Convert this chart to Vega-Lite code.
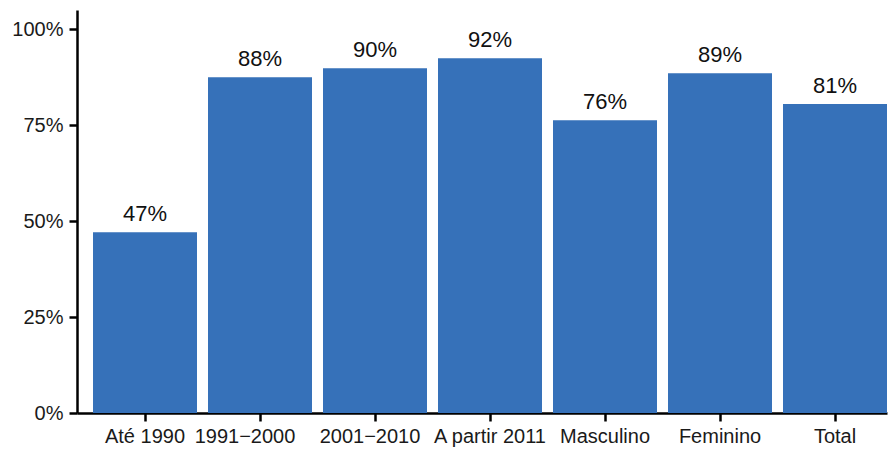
{
  "$schema": "https://vega.github.io/schema/vega-lite/v6.json",
  "width": 810,
  "height": 403,
  "autosize": {"type": "none"},
  "padding": {"left": 77, "top": 10, "right": 6, "bottom": 37},
  "background": "white",
  "config": {
    "view": {"stroke": null},
    "font": "Liberation Sans"
  },
  "data": {
    "values": [
      {"grupo": "Até 1990", "valor": 0.471, "rotulo": "47%"},
      {"grupo": "1991−2000", "valor": 0.875, "rotulo": "88%"},
      {"grupo": "2001−2010", "valor": 0.898, "rotulo": "90%"},
      {"grupo": "A partir 2011", "valor": 0.924, "rotulo": "92%"},
      {"grupo": "Masculino", "valor": 0.763, "rotulo": "76%"},
      {"grupo": "Feminino", "valor": 0.885, "rotulo": "89%"},
      {"grupo": "Total", "valor": 0.805, "rotulo": "81%"}
    ]
  },
  "encoding": {
    "x": {
      "field": "grupo",
      "type": "nominal",
      "sort": null,
      "scale": {"paddingInner": 0.0957, "paddingOuter": 0.0696, "align": 1},
      "axis": {
        "title": null,
        "labelAngle": 0,
        "labelFontSize": 20,
        "labelColor": "#1a1a1a",
        "labelPadding": 5,
        "labelOverlap": false,
        "labelOffset": {"condition": [{"test": "datum.value === '1991−2000'", "value": -15}, {"test": "datum.value === '2001−2010'", "value": -5}], "value": 0},
        "tickSize": 8,
        "tickWidth": 2.5,
        "tickColor": "#000000",
        "domainWidth": 2.5,
        "domainColor": "#000000",
        "grid": false
      }
    },
    "y": {
      "field": "valor",
      "type": "quantitative",
      "scale": {"domain": [0, 1.05], "nice": false, "zero": true},
      "axis": {
        "title": null,
        "values": [0, 0.25, 0.5, 0.75, 1],
        "format": ".0%",
        "labelFontSize": 20,
        "labelColor": "#1a1a1a",
        "labelPadding": 6,
        "tickSize": 8,
        "tickWidth": 2.5,
        "tickColor": "#000000",
        "domainWidth": 2.5,
        "domainColor": "#000000",
        "grid": false
      }
    }
  },
  "layer": [
    {"mark": {"type": "bar", "color": "#3671b9"}},
    {
      "mark": {"type": "text", "baseline": "alphabetic", "dy": -11, "fontSize": 22, "color": "#111111"},
      "encoding": {"text": {"field": "rotulo"}}
    }
  ]
}
